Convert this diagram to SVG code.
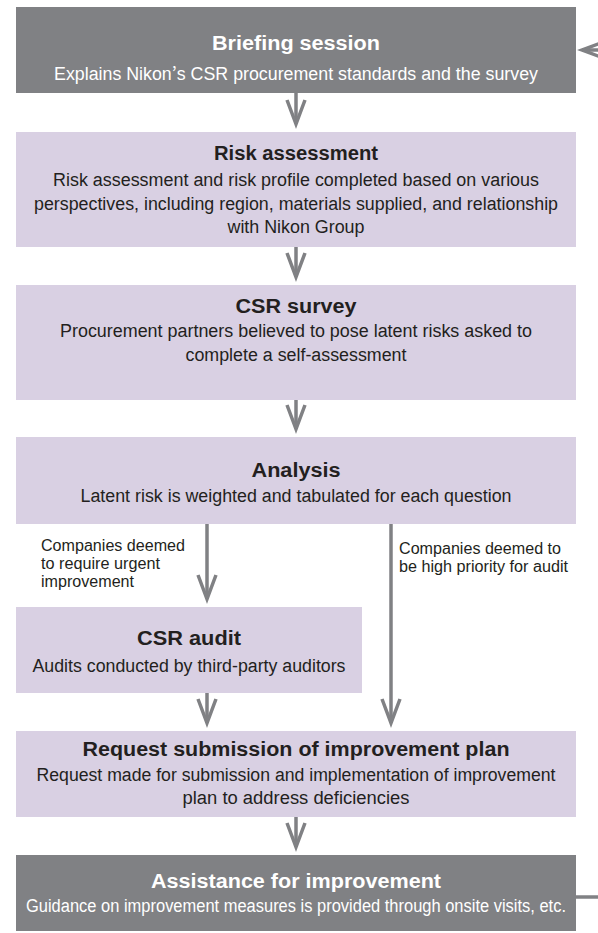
<svg xmlns="http://www.w3.org/2000/svg" width="598" height="933" viewBox="0 0 598 933">
<style>
.dark{fill:#808184}
.light{fill:#d9d0e3}
.t{font-family:"Liberation Sans",Arial,sans-serif;text-anchor:middle}
.h{font-weight:bold;font-size:20px}
.b{font-size:17.6px}
.w{fill:#ffffff}
.k{fill:#231f20}
.lbl{font-family:"Liberation Sans",Arial,sans-serif;font-size:16px;fill:#231f20}
.conn{stroke:#808184;stroke-width:3.5;fill:none}
</style>
<defs>
<marker id="arr" markerUnits="userSpaceOnUse" viewBox="-30 -12 40 24" refX="0" refY="0" markerWidth="40" markerHeight="24" orient="auto" overflow="visible">
<path d="M-24,-9 L0,0 L-24,9" fill="none" stroke="#808184" stroke-width="3.5" stroke-linejoin="miter"/>
</marker>
</defs>
<g id="connectors">
<path class="conn" d="M296,93 V124" marker-end="url(#arr)"/>
<path class="conn" d="M296,247 V277" marker-end="url(#arr)"/>
<path class="conn" d="M296,400 V429" marker-end="url(#arr)"/>
<path class="conn" d="M207,524 V599" marker-end="url(#arr)"/>
<path class="conn" d="M391,524 V723" marker-end="url(#arr)"/>
<path class="conn" d="M207,693 V723" marker-end="url(#arr)"/>
<path class="conn" d="M296,817 V847" marker-end="url(#arr)"/>
<path class="conn" d="M576,897 H600"/>
<path class="conn" d="M600,50 H582" marker-end="url(#arr)"/>
</g>
<g id="briefing">
<rect class="dark" x="16" y="7" width="560" height="86"/>
<text class="t h w" x="296" y="50" textLength="168" lengthAdjust="spacingAndGlyphs">Briefing session</text>
<text class="t b w" x="296" y="80" textLength="484" lengthAdjust="spacingAndGlyphs">Explains Nikon<tspan font-family="Noto Sans CJK JP">’</tspan>s CSR procurement standards and the survey</text>
</g>
<g id="risk-assessment">
<rect class="light" x="16" y="132" width="560" height="115"/>
<text class="t h k" x="296" y="160" textLength="164" lengthAdjust="spacingAndGlyphs">Risk assessment</text>
<text class="t b k" x="296" y="186" textLength="486" lengthAdjust="spacingAndGlyphs">Risk assessment and risk profile completed based on various</text>
<text class="t b k" x="296" y="210" textLength="524" lengthAdjust="spacingAndGlyphs">perspectives, including region, materials supplied, and relationship</text>
<text class="t b k" x="296" y="233" textLength="137" lengthAdjust="spacingAndGlyphs">with Nikon Group</text>
</g>
<g id="csr-survey">
<rect class="light" x="16" y="285" width="560" height="115"/>
<text class="t h k" x="296" y="313" textLength="121" lengthAdjust="spacingAndGlyphs">CSR survey</text>
<text class="t b k" x="296" y="337" textLength="472" lengthAdjust="spacingAndGlyphs">Procurement partners believed to pose latent risks asked to</text>
<text class="t b k" x="296" y="361" textLength="221" lengthAdjust="spacingAndGlyphs">complete a self-assessment</text>
</g>
<g id="analysis">
<rect class="light" x="16" y="437" width="560" height="87"/>
<text class="t h k" x="296" y="477" textLength="89" lengthAdjust="spacingAndGlyphs">Analysis</text>
<text class="t b k" x="296" y="502" textLength="431" lengthAdjust="spacingAndGlyphs">Latent risk is weighted and tabulated for each question</text>
</g>
<g id="label-urgent">
<text class="lbl" x="41" y="551" textLength="144" lengthAdjust="spacingAndGlyphs">Companies deemed</text>
<text class="lbl" x="41" y="569" textLength="119" lengthAdjust="spacingAndGlyphs">to require urgent</text>
<text class="lbl" x="41" y="587" textLength="93" lengthAdjust="spacingAndGlyphs">improvement</text>
</g>
<g id="label-priority">
<text class="lbl" x="399" y="554" textLength="162" lengthAdjust="spacingAndGlyphs">Companies deemed to</text>
<text class="lbl" x="399" y="572" textLength="169" lengthAdjust="spacingAndGlyphs">be high priority for audit</text>
</g>
<g id="csr-audit">
<rect class="light" x="16" y="607" width="346" height="86"/>
<text class="t h k" x="189" y="645" textLength="104" lengthAdjust="spacingAndGlyphs">CSR audit</text>
<text class="t b k" x="189" y="672" textLength="313" lengthAdjust="spacingAndGlyphs">Audits conducted by third-party auditors</text>
</g>
<g id="improvement-plan">
<rect class="light" x="16" y="731" width="560" height="86"/>
<text class="t h k" x="296" y="756" textLength="427" lengthAdjust="spacingAndGlyphs">Request submission of improvement plan</text>
<text class="t b k" x="296" y="781" textLength="519" lengthAdjust="spacingAndGlyphs">Request made for submission and implementation of improvement</text>
<text class="t b k" x="296" y="804" textLength="227" lengthAdjust="spacingAndGlyphs">plan to address deficiencies</text>
</g>
<g id="assistance">
<rect class="dark" x="16" y="855" width="560" height="76"/>
<text class="t h w" x="296" y="888" textLength="290" lengthAdjust="spacingAndGlyphs">Assistance for improvement</text>
<text class="t b w" x="296" y="912" textLength="540" lengthAdjust="spacingAndGlyphs">Guidance on improvement measures is provided through onsite visits, etc.</text>
</g>
</svg>
